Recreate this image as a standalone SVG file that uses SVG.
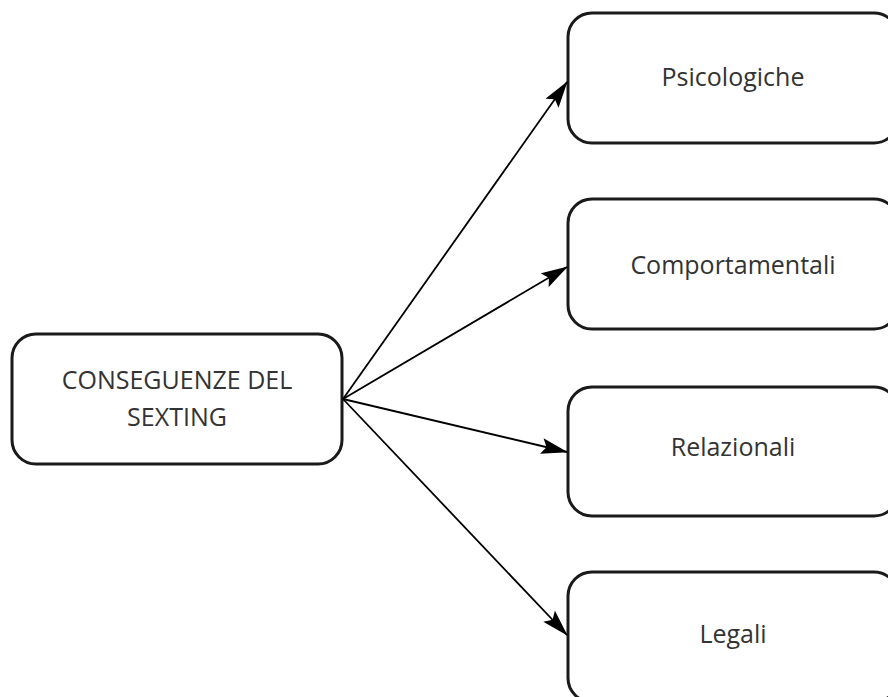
<svg xmlns="http://www.w3.org/2000/svg" width="888" height="697" viewBox="0 0 888 697">
<style>
.box{fill:#fff;stroke:#1a1a1a;stroke-width:3}
.t{font-family:"Open Sans","Noto Sans",sans-serif;font-size:25px;fill:#333;text-anchor:middle}
.c{stroke:#000;stroke-width:1.8;fill:none;marker-end:url(#ah)}
</style>
<defs>
<marker id="ah" markerWidth="27" markerHeight="16" refX="26" refY="8" orient="auto" markerUnits="userSpaceOnUse">
<path d="M0,0 L27,8 L0,16 L5,8 Z" fill="#000"/>
</marker>
</defs>
<rect width="888" height="697" fill="#fff"/>
<g id="root">
<rect class="box" x="12" y="334" width="330" height="130" rx="24"/>
<text class="t" x="177" y="389">CONSEGUENZE DEL</text>
<text class="t" x="177" y="426">SEXTING</text>
</g>
<g id="psicologiche">
<rect class="box" x="568" y="13" width="330" height="130" rx="24"/>
<text class="t" x="733" y="86">Psicologiche</text>
</g>
<g id="comportamentali">
<rect class="box" x="568" y="199" width="330" height="130" rx="24"/>
<text class="t" x="733" y="274">Comportamentali</text>
</g>
<g id="relazionali">
<rect class="box" x="568" y="387" width="330" height="129" rx="24"/>
<text class="t" x="733" y="456">Relazionali</text>
</g>
<g id="legali">
<rect class="box" x="568" y="572" width="330" height="130" rx="24"/>
<text class="t" x="733" y="643">Legali</text>
</g>
<g id="connectors">
<line class="c" x1="343" y1="399" x2="567" y2="82"/>
<line class="c" x1="343" y1="399" x2="567" y2="267"/>
<line class="c" x1="343" y1="399" x2="567" y2="452"/>
<line class="c" x1="343" y1="399" x2="567" y2="635"/>
</g>
</svg>
